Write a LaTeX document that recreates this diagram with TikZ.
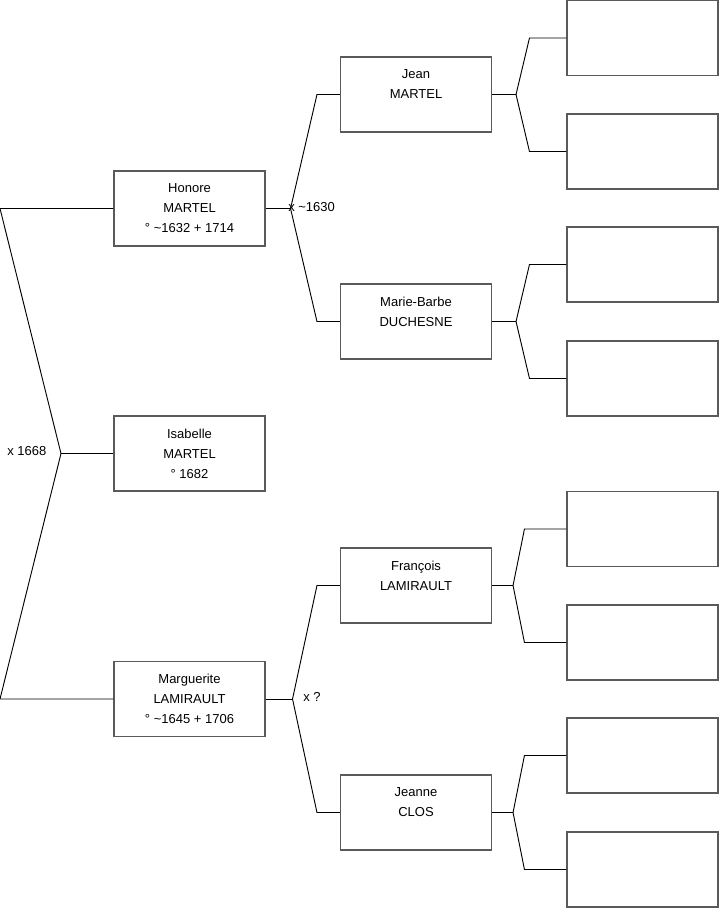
\documentclass[tikz,border=0pt]{standalone}
\usepackage{fontspec}
\setmainfont{Liberation Sans}
\usepackage{tikz}
\usetikzlibrary{positioning}
\definecolor{TreeGray}{HTML}{5A5A5A}
\tikzset{
  person/.style={draw=TreeGray, line width=0.8pt, minimum width=113.25pt, minimum height=56.25pt, inner sep=0pt},
  link/.style={line width=0.7pt, black}
}
\begin{document}
\begin{tikzpicture}[x=0.75pt, y=-0.75pt, every node/.style={font=\fontsize{9.75}{15}\selectfont, align=center}]
  \useasboundingbox (0,0) rectangle (719,908);
  % generation 1
  \node[person] (isabelle) at (189.5,453.5) {Isabelle\\MARTEL\\° 1682};
  % parents
  \node[person] (honore) at (189.5,208.5) {Honore\\MARTEL\\° \textasciitilde1632 + 1714};
  \node[person] (marguerite) at (189.5,699) {Marguerite\\LAMIRAULT\\° \textasciitilde1645 + 1706};
  % grandparents
  \node[person] (jean) at (416,94.5) {Jean\\MARTEL\\~};
  \node[person] (mariebarbe) at (416,321.5) {Marie-Barbe\\DUCHESNE\\~};
  \node[person] (francois) at (416,585.5) {François\\LAMIRAULT\\~};
  \node[person] (jeanne) at (416,812.5) {Jeanne\\CLOS\\~};
  % great-grandparents (empty)
  \node[person] (gg1) at (642.5,38) {};
  \node[person] (gg2) at (642.5,151.5) {};
  \node[person] (gg3) at (642.5,264.5) {};
  \node[person] (gg4) at (642.5,378.5) {};
  \node[person] (gg5) at (642.5,529) {};
  \node[person] (gg6) at (642.5,642.5) {};
  \node[person] (gg7) at (642.5,755.5) {};
  \node[person] (gg8) at (642.5,869.5) {};

  % marriage labels
  \node[anchor=west, inner sep=0pt] (m1668) at (7,451) {x 1668};
  \node[anchor=west, inner sep=0pt] (m1630) at (288,207) {x \textasciitilde1630};
  \node[anchor=west, inner sep=0pt] (mq) at (303,697) {x ?};

  % fork of isabelle
  \coordinate (hend) at (0,208.5);
  \coordinate (mend) at (0,699);
  \coordinate (fork0) at (61,453.5);
  \draw[link] (honore.west) -- (hend) -- (fork0) -- (mend) -- (marguerite.west);
  \draw[link] (fork0) -- (isabelle.west);

  % fork of honore
  \draw[link] (honore.east) -- ++(18.75pt,0) coordinate (fork1);
  \draw[link] (jean.west) -- ++(-17.25pt,0) -- (fork1) -- ([xshift=-17.25pt]mariebarbe.west) -- (mariebarbe.west);
  % fork of marguerite
  \draw[link] (marguerite.east) -- ++(20.25pt,0) coordinate (fork2);
  \draw[link] (francois.west) -- ++(-17.25pt,0) -- (fork2) -- ([xshift=-17.25pt]jeanne.west) -- (jeanne.west);

  % forks of the grandparents
  \draw[link] (jean.east) -- ++(18pt,0) coordinate (fork3);
  \draw[link] (gg1.west) -- ++(-27.75pt,0) -- (fork3) -- ([xshift=-27.75pt]gg2.west) -- (gg2.west);
  \draw[link] (mariebarbe.east) -- ++(18pt,0) coordinate (fork4);
  \draw[link] (gg3.west) -- ++(-27.75pt,0) -- (fork4) -- ([xshift=-27.75pt]gg4.west) -- (gg4.west);
  \draw[link] (francois.east) -- ++(15.75pt,0) coordinate (fork5);
  \draw[link] (gg5.west) -- ++(-31.5pt,0) -- (fork5) -- ([xshift=-31.5pt]gg6.west) -- (gg6.west);
  \draw[link] (jeanne.east) -- ++(15.75pt,0) coordinate (fork6);
  \draw[link] (gg7.west) -- ++(-31.5pt,0) -- (fork6) -- ([xshift=-31.5pt]gg8.west) -- (gg8.west);
\end{tikzpicture}
\end{document}
